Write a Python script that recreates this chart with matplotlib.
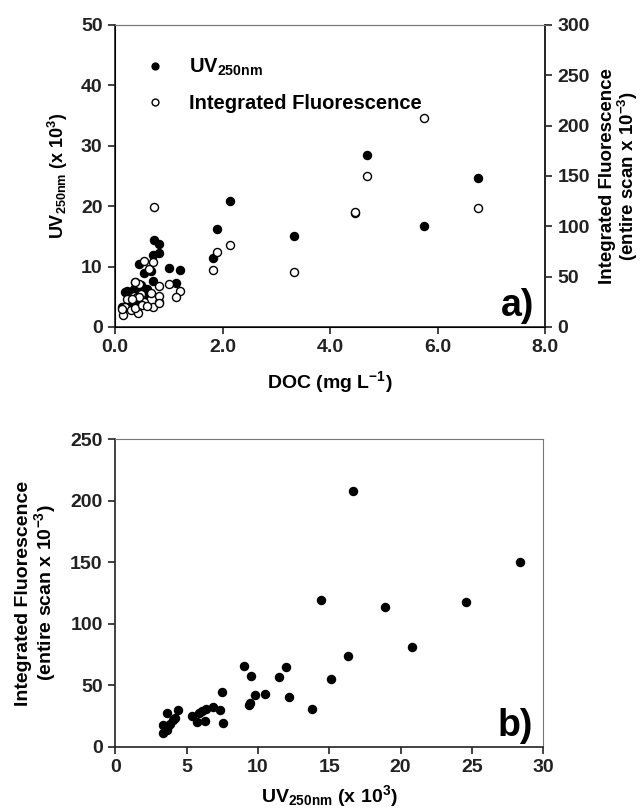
import matplotlib
matplotlib.use("Agg")
import matplotlib.pyplot as plt

# DOC (mg/L), UV250nm (x10^3), integrated fluorescence (entire scan x10^-3)
doc = [0.73, 1.83, 1.89, 2.14, 3.33, 4.47, 4.68, 5.75, 6.75,
       0.82, 0.82, 0.70, 0.45, 0.53, 1.00, 1.21, 0.66, 0.63, 0.38, 1.13, 0.70,
       0.19, 0.36, 0.53, 0.41, 0.23, 0.48, 0.30, 0.43, 0.14, 0.38, 0.13, 0.82,
       0.50, 0.45, 0.32, 0.60]
uv = [14.4, 11.5, 16.3, 20.8, 15.1, 18.9, 28.4, 16.7, 24.6,
      13.8, 12.2, 12.0, 10.5, 9.0, 9.8, 9.47, 9.35, 9.5, 7.5, 7.36, 7.59,
      5.75, 6.36, 5.36, 6.08, 5.9, 6.88, 3.72, 3.65, 3.33, 3.84, 3.37, 4.21,
      4.03, 4.42, 3.61, 6.29]
fluor = [119, 57, 74, 81, 55, 114, 150, 208, 118,
         31.2, 40.7, 65, 42.8, 66, 42.3, 35.8, 34, 58, 44.5, 29.8, 19.5,
         20.1, 30.7, 25, 29.3, 27.7, 32.5, 17, 13.6, 11.7, 19, 18.2, 23.6,
         21.7, 29.8, 28, 20.9]

doc_ticks = [0, 2, 4, 6, 8]
doc_labels = ["0.0", "2.0", "4.0", "6.0", "8.0"]
uv_ticks_a = [0, 10, 20, 30, 40, 50]
fl_ticks_a = [0, 50, 100, 150, 200, 250, 300]
uv_ticks_b = [0, 5, 10, 15, 20, 25, 30]
fl_ticks_b = [0, 50, 100, 150, 200, 250]

FONT = ["Liberation Sans", "DejaVu Sans"]

plt.rcParams["font.family"] = FONT
plt.rcParams["font.weight"] = "bold"
plt.rcParams["mathtext.fontset"] = "custom"
plt.rcParams["mathtext.rm"] = "Liberation Sans:bold"
plt.rcParams["mathtext.bf"] = "Liberation Sans:bold"
plt.rcParams["mathtext.it"] = "Liberation Sans:bold"

DARK = "#222222"
GREY = "#777777"
MS = 5.8

fig = plt.figure(figsize=(6.44, 8.08), dpi=100)


def style_ticks(ax, fs=14):
    ax.tick_params(direction="out", length=5, width=1.2, colors=DARK,
                   labelsize=fs, pad=4)
    for lab in ax.get_xticklabels() + ax.get_yticklabels():
        lab.set_fontweight("bold")


# ---- panel a ----
ax = fig.add_axes([0.1786, 0.5953, 0.668, 0.3738])
ax.plot(doc, uv, "o", color="black", ms=MS, mec="black", label=r"UV$_{\mathrm{250nm}}$")
ax.set_xlim(0, 8)
ax.set_ylim(0, 50)
ax.set_xticks(doc_ticks)
ax.set_xticklabels(doc_labels)
ax.set_yticks(uv_ticks_a)
ax.spines["top"].set_color(GREY)
for s in ("left", "bottom", "right"):
    ax.spines[s].set_color(DARK)
    ax.spines[s].set_linewidth(1.2)
style_ticks(ax)
ax.set_xlabel(r"DOC (mg L$^{\mathrm{-1}}$)", fontsize=14, fontweight="bold", labelpad=9)
ax.set_ylabel(r"UV$_{\mathrm{250nm}}$ (x 10$^{\mathrm{3}}$)", fontsize=13,
              fontweight="bold", labelpad=8)

ax2 = ax.twinx()
ax2.plot(doc, fluor, "o", mfc="white", mec="black", mew=1.0, ms=MS,
         label="Integrated Fluorescence")
ax2.set_ylim(0, 300)
ax2.set_yticks(fl_ticks_a)
ax2.spines["right"].set_color(DARK)
ax2.spines["right"].set_linewidth(1.2)
ax2.spines["top"].set_color(GREY)
style_ticks(ax2)
ax2.set_ylabel("Integrated Fluorescence\n(entire scan x 10$^{\\mathrm{-3}}$)",
               fontsize=13.5, fontweight="bold", labelpad=6, linespacing=1.0)
h1, l1 = ax.get_legend_handles_labels()
h2, l2 = ax2.get_legend_handles_labels()
ax2.legend(h1 + h2, l1 + l2, loc="upper left", bbox_to_anchor=(0.055, 0.92),
           frameon=False, labelspacing=0.75, handlelength=0.8, handletextpad=1.3,
           markerscale=0.85, borderaxespad=0.0, prop={"weight": "bold", "size": 14.5})
ax2.text(0.975, 0.01, "a)", transform=ax2.transAxes, ha="right", va="bottom",
         fontsize=27, fontweight="bold")

# ---- panel b ----
bx = fig.add_axes([0.1789, 0.0755, 0.6646, 0.381])
bx.plot(uv, fluor, "o", color="black", ms=MS)
bx.set_xlim(0, 30)
bx.set_ylim(0, 250)
bx.set_xticks(uv_ticks_b)
bx.set_yticks(fl_ticks_b)
for s in ("top", "right"):
    bx.spines[s].set_color(GREY)
for s in ("left", "bottom"):
    bx.spines[s].set_color(DARK)
    bx.spines[s].set_linewidth(1.2)
style_ticks(bx)
bx.set_xlabel(r"UV$_{\mathrm{250nm}}$ (x 10$^{\mathrm{3}}$)", fontsize=14,
              fontweight="bold", labelpad=5)
bx.set_ylabel("Integrated Fluorescence\n(entire scan x 10$^{\\mathrm{-3}}$)",
              fontsize=14, fontweight="bold", labelpad=9, linespacing=1.0)
bx.text(0.975, 0.01, "b)", transform=bx.transAxes, ha="right", va="bottom",
        fontsize=27, fontweight="bold")

fig.savefig("out.png", dpi=100)
